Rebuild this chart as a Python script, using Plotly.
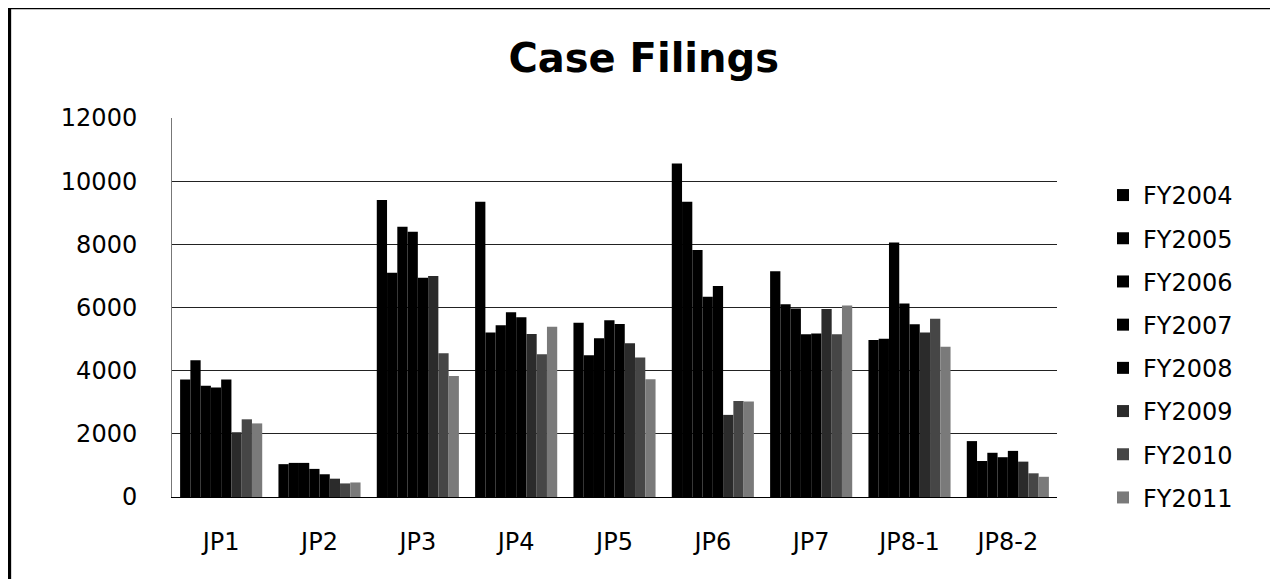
import plotly.graph_objects as go

# ---- data ----
DISTRICTS = ["JP1", "JP2", "JP3", "JP4", "JP5", "JP6", "JP7", "JP8-1", "JP8-2"]

FY2004 = [3720, 1040, 9400, 9350, 5520, 10560, 7150, 4970, 1770]
FY2005 = [4330, 1080, 7100, 5210, 4490, 9350, 6100, 5010, 1140]
FY2006 = [3520, 1080, 8560, 5440, 5030, 7820, 5970, 8060, 1400]
FY2007 = [3470, 890, 8400, 5850, 5600, 6340, 5150, 6130, 1260]
FY2008 = [3720, 720, 6940, 5690, 5480, 6680, 5180, 5470, 1460]
FY2009 = [2050, 580, 7000, 5160, 4870, 2600, 5950, 5210, 1120]
FY2010 = [2460, 430, 4550, 4520, 4420, 3040, 5150, 5640, 750]
FY2011 = [2330, 460, 3830, 5390, 3730, 3020, 6060, 4760, 640]

Y_TICKS = [0, 2000, 4000, 6000, 8000, 10000, 12000]
Y_TICK_TEXT = ["0", "2000", "4000", "6000", "8000", "10000", "12000"]

SERIES = [
    ("FY2004", FY2004, "#000000"),
    ("FY2005", FY2005, "#000000"),
    ("FY2006", FY2006, "#000000"),
    ("FY2007", FY2007, "#000000"),
    ("FY2008", FY2008, "#000000"),
    ("FY2009", FY2009, "#2b2b2b"),
    ("FY2010", FY2010, "#464646"),
    ("FY2011", FY2011, "#7a7a7a"),
]

FONT = "DejaVu Sans, Verdana, sans-serif"

fig = go.Figure()
for name, vals, color in SERIES:
    fig.add_trace(go.Bar(
        x=DISTRICTS, y=vals, name=name, legendgroup=name,
        marker=dict(color=color, line=dict(width=0)),
    ))

# page body adds an 8px offset, so margins are pulled in by 8 on top/left
fig.update_layout(
    width=1278, height=579,
    margin=dict(l=164, r=229, t=110, b=90),
    paper_bgcolor="white", plot_bgcolor="white",
    font=dict(family=FONT, color="#000000", size=24),
    title=dict(
        text="<b>Case Filings</b>",
        font=dict(family=FONT, size=40, color="#000000"),
        x=0.533, xref="paper", xanchor="center",
        y=0.913, yanchor="middle",
    ),
    barmode="group", bargap=0.165, bargroupgap=0,
    showlegend=True,
    legend=dict(
        x=1.052, xanchor="left", y=0.855, yanchor="top",
        font=dict(family=FONT, size=24, color="#000000"),
        tracegroupgap=9, itemwidth=30,
        bgcolor="rgba(0,0,0,0)",
    ),
    xaxis=dict(
        showgrid=False, ticks="", showline=True, linecolor="#000000", linewidth=1,
        ticklabelstandoff=23, tickfont=dict(size=24),
    ),
    yaxis=dict(
        range=[0, 12000], tickvals=Y_TICKS, ticktext=Y_TICK_TEXT,
        showgrid=True, gridcolor="#222222", gridwidth=1,
        zeroline=False, showline=True, linecolor="#777777", linewidth=1,
        ticks="", ticklabelstandoff=29, tickfont=dict(size=24),
    ),
)

# outer frame of the scanned chart (left and top edges)
fig.add_shape(type="line", xref="paper", yref="paper",
              x0=-0.184, x1=-0.184, y0=1.293, y1=-0.24,
              line=dict(color="#000000", width=4))
fig.add_shape(type="line", xref="paper", yref="paper",
              x0=-0.186, x1=1.27, y0=1.29, y1=1.29,
              line=dict(color="#000000", width=2.5))

fig.write_html("out.html")
